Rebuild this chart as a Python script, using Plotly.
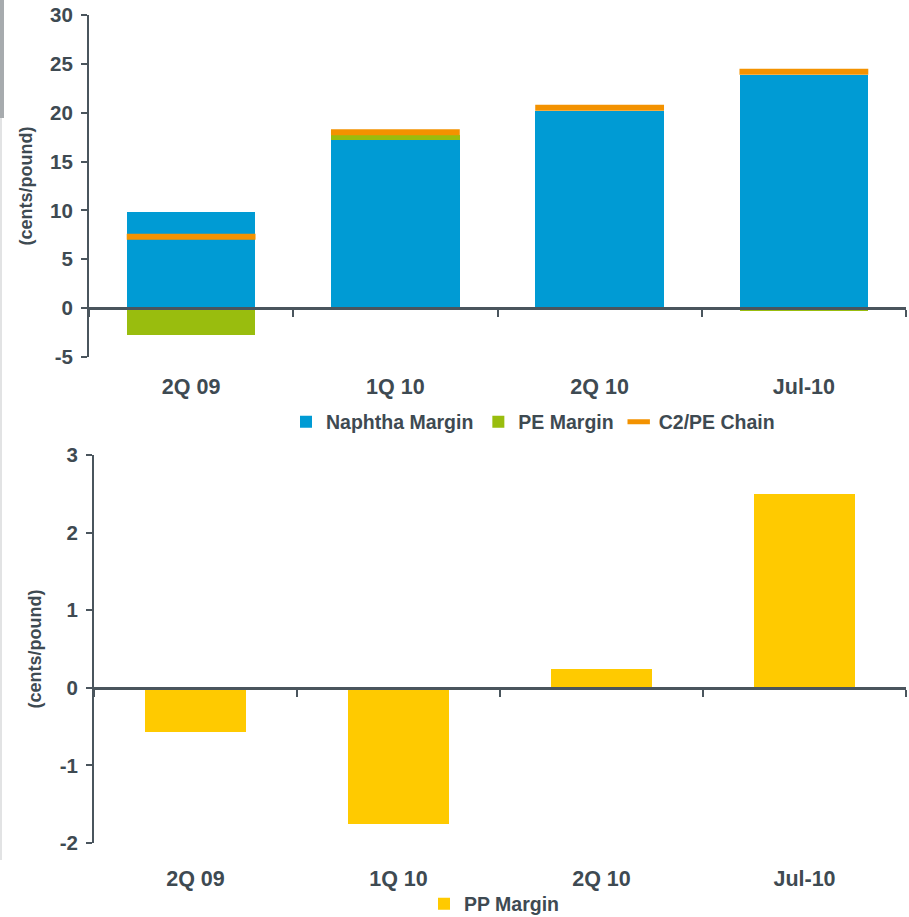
import plotly.graph_objects as go

# ---- data ----
categories = ["2Q 09", "1Q 10", "2Q 10", "Jul-10"]
naphtha_margin = [9.85, 17.2, 20.2, 23.85]
pe_margin = [-2.75, 0.5, 0.0, -0.3]
c2_pe_chain = [7.3, 18.0, 20.5, 24.2]
pp_margin = [-0.57, -1.75, 0.24, 2.5]

top_ticks = [-5, 0, 5, 10, 15, 20, 25, 30]
top_tick_labels = ["-5", "0", "5", "10", "15", "20", "25", "30"]
bot_ticks = [-2, -1, 0, 1, 2, 3]
bot_tick_labels = ["-2", "-1", "0", "1", "2", "3"]

# ---- styles ----
W, H = 909, 917
TXT = "#3E4A52"
AX = "#4A555D"
BLUE = "#009BD4"
GREEN = "#99BD0E"
ORANGE = "#F39200"
YELLOW = "#FFCA00"
FONT = "Liberation Sans, Arial, sans-serif"

top_range = [-5, 30]
bot_range = [-2, 3]
top_dom = [1 - 357 / H, 1 - 15 / H]
bot_dom = [1 - 843 / H, 1 - 455 / H]


def zero_pos(dom, rng):
    return dom[0] + (0 - rng[0]) / (rng[1] - rng[0]) * (dom[1] - dom[0])


fig = go.Figure()

fig.add_trace(go.Bar(x=categories, y=naphtha_margin, name="Naphtha Margin",
                     marker=dict(color=BLUE, line=dict(width=0)), width=0.63,
                     xaxis="x", yaxis="y", legend="legend"))
fig.add_trace(go.Bar(x=categories, y=pe_margin, name="PE Margin",
                     marker=dict(color=GREEN, line=dict(width=0)), width=0.63,
                     xaxis="x", yaxis="y", legend="legend"))
fig.add_trace(go.Scatter(x=categories, y=c2_pe_chain, name="C2/PE Chain", mode="markers",
                         marker=dict(symbol="line-ew", size=92,
                                     line=dict(color=ORANGE, width=6), color=ORANGE),
                         xaxis="x", yaxis="y", legend="legend"))
fig.add_trace(go.Bar(x=categories, y=pp_margin, name="PP Margin",
                     marker=dict(color=YELLOW, line=dict(width=0)), width=0.5,
                     xaxis="x2", yaxis="y2", legend="legend2", showlegend=True))

xtickfont = dict(family=FONT, size=21.5, color=TXT, weight="bold")
ytickfont = dict(family=FONT, size=20.5, color=TXT, weight="bold")

xcommon = dict(type="category", categoryorder="array", categoryarray=categories,
               range=[-0.5, 3.5], tickson="boundaries", ticks="outside", ticklen=7,
               tickwidth=2, tickcolor=AX, showline=True, linecolor=AX, linewidth=3,
               showgrid=False, zeroline=False, tickfont=xtickfont, anchor="free",
               automargin=False)
ycommon = dict(ticks="outside", ticklen=6, tickwidth=2, tickcolor=AX, showline=True,
               linecolor=AX, linewidth=2, showgrid=False, zeroline=False,
               tickfont=ytickfont, ticklabelstandoff=4, automargin=False,
               title=dict(text="(cents/pound)", font=dict(family=FONT, size=18, color=TXT,
                                                         weight="bold"), standoff=13))

fig.update_layout(
    template="none",
    width=W, height=H, margin=dict(l=0, r=0, t=0, b=0, autoexpand=False),
    paper_bgcolor="white", plot_bgcolor="rgba(0,0,0,0)",
    barmode="relative", bargap=0,
    xaxis=dict(domain=[89 / W, 906 / W], position=zero_pos(top_dom, top_range),
               ticklabelstandoff=58, **xcommon),
    yaxis=dict(domain=top_dom, range=top_range, tickvals=top_ticks, ticktext=top_tick_labels,
               anchor="x", **ycommon),
    xaxis2=dict(domain=[94 / W, 906 / W], position=zero_pos(bot_dom, bot_range),
                ticklabelstandoff=170, **xcommon),
    yaxis2=dict(domain=bot_dom, range=bot_range, tickvals=bot_ticks, ticktext=bot_tick_labels,
                anchor="x2", **ycommon),
    legend=dict(orientation="h", x=533 / W, xanchor="center", y=1 - 422 / H, yanchor="middle",
                font=dict(family=FONT, size=19.5, color=TXT, weight="bold"),
                itemwidth=30, bgcolor="rgba(0,0,0,0)", traceorder="normal"),
    legend2=dict(orientation="h", x=494 / W, xanchor="center", y=1 - 904 / H, yanchor="middle",
                 font=dict(family=FONT, size=19.5, color=TXT, weight="bold"),
                 itemwidth=30, bgcolor="rgba(0,0,0,0)"),
    shapes=[
        dict(type="rect", xref="paper", yref="paper", x0=0, x1=4 / W, y0=1 - 118 / H, y1=1,
             fillcolor="#A7ABAE", line=dict(width=0), layer="below"),
        dict(type="rect", xref="paper", yref="paper", x0=0, x1=2 / W, y0=1 - 860 / H,
             y1=1 - 118 / H, fillcolor="#E2E3E4", line=dict(width=0), layer="below"),
    ],
)

fig.write_html("out.html")
